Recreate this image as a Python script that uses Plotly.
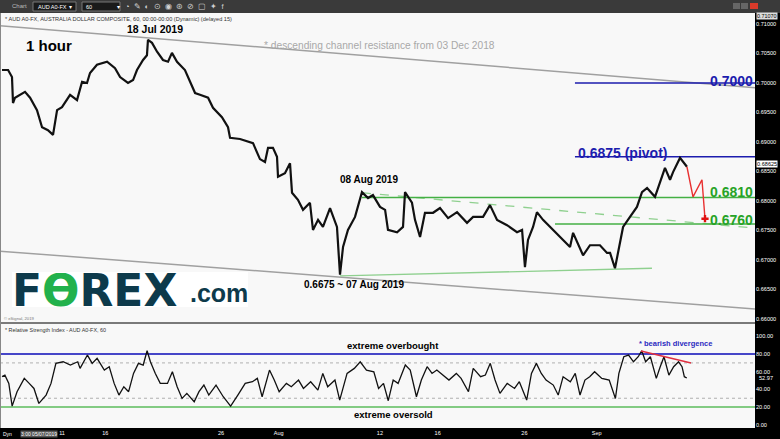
import plotly.graph_objects as go

FONT = "Liberation Sans, Arial, sans-serif"

# ---------------- data (x = trading-day index from 05 Jul 2019) ----------------
price_day = [0.0, 0.42, 0.69, 0.76, 0.90, 1.59, 1.94, 2.42, 2.77, 3.18,
             3.53, 3.81, 4.15, 4.71, 5.19, 5.54, 5.88, 6.09, 6.57, 7.27,
             7.82, 8.17, 8.72, 9.07, 9.34, 9.76, 10.03, 10.10, 10.38, 10.73,
             11.14, 11.49, 11.76, 12.11, 12.66, 13.01, 13.36, 13.70, 14.26, 14.60,
             15.22, 15.64, 15.78, 16.47, 17.37, 17.85, 18.20, 18.41, 18.75, 19.03,
             19.10, 19.58, 19.93, 20.07, 20.48, 20.83, 21.31, 21.52, 21.87, 22.21,
             22.70, 23.18, 23.39, 23.60, 23.94, 24.43, 24.91, 25.33, 25.67, 26.16,
             26.51, 26.71, 27.34, 27.75, 27.89, 28.37, 28.58, 28.93, 29.27, 29.83,
             30.31, 30.87, 31.49, 32.18, 32.60, 33.29, 33.77, 34.26, 34.95, 35.64,
             35.99, 36.19, 36.40, 36.75, 37.02, 37.44, 37.92, 38.62, 39.31, 39.52,
             40.21, 40.69, 41.38, 41.87, 42.08, 42.42, 42.77, 42.98, 43.46, 43.94,
             44.29, 44.64, 45.19, 45.88, 46.23, 46.44, 46.92, 47.40]
price_val = [0.7022, 0.7022, 0.7010, 0.6966, 0.6975, 0.6985, 0.6975, 0.6954, 0.6925, 0.6920,
             0.6912, 0.6954, 0.6959, 0.6980, 0.6971, 0.7002, 0.7000, 0.7017, 0.7031, 0.7036,
             0.7025, 0.7010, 0.7000, 0.7005, 0.7022, 0.7039, 0.7047, 0.7073, 0.7068, 0.7053,
             0.7039, 0.7036, 0.7051, 0.7036, 0.7022, 0.7002, 0.6983, 0.6980, 0.6975, 0.6958,
             0.6942, 0.6925, 0.6907, 0.6905, 0.6898, 0.6871, 0.6866, 0.6890, 0.6890, 0.6875,
             0.6841, 0.6847, 0.6864, 0.6814, 0.6802, 0.6785, 0.6797, 0.6751, 0.6768, 0.6756,
             0.6788, 0.6756, 0.6675, 0.6722, 0.6751, 0.6773, 0.6815, 0.6805, 0.6810, 0.6790,
             0.6785, 0.6751, 0.6747, 0.6756, 0.6815, 0.6797, 0.6768, 0.6739, 0.6780, 0.6780,
             0.6788, 0.6771, 0.6781, 0.6763, 0.6773, 0.6773, 0.6793, 0.6768, 0.6759, 0.6747,
             0.6751, 0.6688, 0.6734, 0.6756, 0.6781, 0.6768, 0.6756, 0.6739, 0.6722, 0.6746,
             0.6708, 0.6725, 0.6725, 0.6712, 0.6712, 0.6686, 0.6729, 0.6756, 0.6773, 0.6790,
             0.6815, 0.6822, 0.6807, 0.6856, 0.6836, 0.6849, 0.6873, 0.6858]

rsi_day = [0.0, 0.20, 0.47, 0.70, 1.04, 1.54, 1.88, 2.21, 2.55, 3.05,
           3.39, 3.73, 4.23, 4.73, 5.24, 5.40, 5.91, 6.24, 6.58, 7.08,
           7.42, 7.76, 8.09, 8.43, 8.76, 9.10, 9.44, 9.77, 10.04, 10.27,
           10.61, 10.95, 11.45, 11.79, 12.12, 12.46, 12.79, 13.30, 13.63, 13.97,
           14.31, 14.81, 15.31, 15.82, 16.32, 16.83, 17.33, 17.67, 18.00, 18.51,
           18.84, 19.18, 19.68, 20.02, 20.52, 20.86, 21.36, 21.86, 22.20, 22.54,
           23.04, 23.37, 23.88, 24.38, 24.79, 25.22, 25.73, 26.06, 26.40, 26.73,
           27.07, 27.41, 27.91, 28.25, 28.68, 29.02, 29.42, 29.76, 30.09, 30.60,
           30.93, 31.44, 31.77, 32.28, 32.61, 33.12, 33.45, 33.79, 34.12, 34.46,
           34.96, 35.47, 35.80, 36.31, 36.64, 36.98, 37.32, 37.65, 38.15, 38.49,
           38.83, 39.33, 39.67, 40.00, 40.34, 40.67, 41.01, 41.51, 42.02, 42.45,
           42.69, 43.03, 43.36, 43.70, 44.03, 44.27, 44.54, 44.87, 45.28, 45.55,
           45.81, 46.15, 46.48, 46.82, 47.06, 47.22, 47.39]
rsi_val = [54.4, 56.2, 46.8, 21.1, 37.4, 52.5, 46.8, 41.1, 24.1, 33.6,
           46.8, 69.5, 71.3, 67.6, 71.3, 63.8, 78.9, 69.5, 75.1, 61.9,
           65.7, 46.8, 33.6, 43.0, 37.4, 58.1, 69.5, 67.6, 83.8, 71.3,
           58.1, 46.8, 46.8, 60.0, 43.0, 29.8, 35.5, 26.0, 37.4, 44.9,
           33.6, 44.9, 31.7, 21.1, 33.6, 46.8, 48.7, 52.5, 31.7, 61.9,
           50.6, 37.4, 46.8, 43.0, 50.6, 41.1, 48.7, 39.2, 58.1, 43.0,
           50.6, 27.9, 58.1, 63.8, 71.3, 61.9, 60.0, 41.1, 46.8, 27.2,
           50.6, 46.8, 67.6, 61.9, 31.7, 50.6, 65.7, 58.1, 61.9, 54.4,
           50.6, 58.1, 52.5, 37.4, 63.8, 54.4, 56.2, 69.5, 50.6, 35.5,
           46.8, 41.1, 48.7, 27.9, 58.1, 69.5, 58.1, 50.6, 44.9, 33.6,
           54.4, 48.7, 58.1, 33.6, 50.6, 54.4, 60.0, 52.5, 50.6, 29.8,
           58.1, 77.0, 78.9, 71.3, 77.0, 83.8, 71.3, 77.0, 52.5, 65.7,
           77.0, 56.2, 65.7, 71.3, 65.7, 54.4, 52.97]

# projected path (red)
proj_day = [47.40, 47.82, 48.44, 48.65]
proj_val = [0.6858, 0.6807, 0.6836, 0.6770]

# trend lines: [start_day, end_day], [start_price, end_price]
chan_res_day, chan_res_val = [-0.14, 52.11], [0.7097, 0.6992]
chan_sup_day, chan_sup_val = [-0.14, 52.11], [0.6715, 0.6617]
low_sup_day, low_sup_val = [23.39, 44.98], [0.6673, 0.6686]
dash_res_day, dash_res_val = [24.91, 52.11], [0.6814, 0.6754]

# horizontal levels
lvl_7000 = 0.7000
lvl_pivot = 0.6875
lvl_6810 = 0.6806
lvl_6760 = 0.6761
lvl_start = {"7000": 39.65, "pivot": 39.65, "6810": 24.91, "6760": 38.27}

# RSI divergence line
div_day, div_val = [44.22, 47.68], [83.5, 69.9]

# axis ticks
x_tickvals = [4, 7, 15, 19, 26, 30, 36, 41]
x_ticktext = ["11", "16", "26", "Aug", "12", "16", "26", "Sep"]
price_ticks = [0.660, 0.665, 0.670, 0.675, 0.680, 0.685, 0.690, 0.695, 0.700, 0.705, 0.710]
rsi_ticks = [0, 20, 40, 60, 80, 100]

X_END = 52.11
BLUE = "#1c1cae"
LGREEN = "#8fd08f"

fig = go.Figure()


def line(xs, ys, color, width, dash="solid", yaxis="y", mode="lines"):
    fig.add_trace(go.Scatter(x=xs, y=ys, mode=mode, yaxis=yaxis, hoverinfo="skip",
                             line=dict(color=color, width=width, dash=dash), showlegend=False))


# channel & trend lines
line(chan_res_day, chan_res_val, "#a0a0a0", 1.5)
line(chan_sup_day, chan_sup_val, "#a0a0a0", 1.5)
line(low_sup_day, low_sup_val, LGREEN, 1.3)
line(dash_res_day, dash_res_val, LGREEN, 1.3, dash="dash")
line([lvl_start["7000"], X_END], [lvl_7000, lvl_7000], BLUE, 1.5)
line([lvl_start["pivot"], X_END], [lvl_pivot, lvl_pivot], BLUE, 1.5)
line([lvl_start["6810"], X_END], [lvl_6810, lvl_6810], "#44b044", 1.6)
line([lvl_start["6760"], X_END], [lvl_6760, lvl_6760], "#44b044", 1.6)

# price
line(price_day, price_val, "#111111", 2.2)
# projection
line(proj_day, proj_val, "#e83030", 1.4)
fig.add_trace(go.Scatter(x=[proj_day[-1]], y=[proj_val[-1]], mode="markers", hoverinfo="skip",
                         marker=dict(symbol="cross", size=6, color="#e01010"), showlegend=False))

# RSI panel
line([-0.14, X_END], [80, 80], "#4646c8", 2.0, yaxis="y2")
line([-0.14, X_END], [70, 70], "#b0b0b0", 1, dash="dot", yaxis="y2")
line([-0.14, X_END], [30, 30], "#b0b0b0", 1, dash="dot", yaxis="y2")
line([-0.14, X_END], [20, 20], "#5cbc5c", 1.6, yaxis="y2")
line(rsi_day, rsi_val, "#111111", 1.3, yaxis="y2")
line(div_day, div_val, "#e03040", 1.4, yaxis="y2")

ann = []


def A(text, x, y, size, color="black", bold=False, xref="x", yref="y", xa="center", ya="middle",
      bg=None, family=FONT, **kw):
    d = dict(text=("<b>%s</b>" % text) if bold else text, x=x, y=y, xref=xref, yref=yref,
             xanchor=xa, yanchor=ya, showarrow=False,
             font=dict(family=family, size=size, color=color))
    if bg:
        d["bgcolor"] = bg
    d.update(kw)
    ann.append(d)


# price panel text
A("1 hour", 3.25, 0.7063, 15, bold=True)
A("18 Jul 2019", 10.59, 0.7092, 10.5, bold=True)
A("* descending channel resistance from 03 Dec 2018", 17.99, 0.7063, 10.2, color="#a8a8a8", xa="left")
A("08 Aug 2019", 25.40, 0.6836, 10, bold=True)
A("0.6675 ~ 07 Aug 2019", 24.36, 0.6658, 10, bold=True)
A("0.6875 (pivot)", 39.72, 0.6881, 14, color=BLUE, bold=True, xa="left")
A("0.7000", 1, 0.70034, 14, color=BLUE, bold=True, xref="paper", xa="right")
A("0.6810", 1, 0.68144, 14, color="#27a327", bold=True, xref="paper", xa="right")
A("0.6760", 1, 0.67686, 14, color="#27a327", bold=True, xref="paper", xa="right")

# RSI text
A("extreme overbought", 27.06, 89.5, 9.5, bold=True, yref="y2")
A("extreme oversold", 27.06, 11.5, 9.5, bold=True, yref="y2")
A("* bearish divergence", 46.64, 92.5, 7.5, color="#2a2ac0", bold=True, yref="y2")

# paper helpers: px -> paper
W, H = 755.0, 415.0


def px(xp):
    return xp / W


def py(yp):
    return (428.0 - yp) / H


# panel headers
A("* AUD A0-FX, AUSTRALIA DOLLAR COMPOSITE, 60, 00:00-00:00 (Dynamic) (delayed 15)", px(3), py(19), 5.6,
  color="#333333", xref="paper", yref="paper", xa="left")
A("* Relative Strength Index - AUD A0-FX, 60", px(3), py(330), 5.4, color="#333333",
  xref="paper", yref="paper", xa="left")
A("© eSignal, 2019", px(3), py(318), 4.2, color="#777777", xref="paper", yref="paper", xa="left",
  borderpad=0)

# FOREX.com logo
A("<b>F<span style='color:#22b14c'>Ө</span>REX</b>", px(11), py(290), 44, color="#0d3a4b",
  xref="paper", yref="paper", xa="left", family="DejaVu Sans, sans-serif", borderpad=0, height=34,
  valign="middle")
A("<b>.com</b>", px(189), py(293), 25, color="#0d3a4b", xref="paper", yref="paper", xa="left",
  borderpad=0)

# right axis labels
A("52.97", px(757), 52.97, 5.6, color="white", xref="paper", yref="y2", xa="left")
A("0.68625", px(756), 0.68625, 5.6, color="black", xref="paper", yref="y", xa="left", bg="white",
  borderpad=0)
A("0.71070", px(756), py(16), 5.4, color="black", xref="paper", yref="paper", xa="left", bg="#dddddd",
  borderpad=0)

# toolbar and bottom strip text
A("Chart", px(10), py(6), 6, color="#bbbbbb", xref="paper", yref="paper", xa="left")
A("AUD A0-FX  ▾", px(36), py(6.5), 5.5, color="white", xref="paper", yref="paper", xa="left")
A("60                ▾", px(84), py(6.5), 5.5, color="white", xref="paper", yref="paper", xa="left")
A("◔  ✎  ◐  ⊙  ◉  ⊛  ⊘  ▢  ✦  f", px(123), py(6.5), 7.5, color="#d0d0d0", xref="paper",
  yref="paper", xa="left")
A("Dyn", px(1), py(433.5), 5, color="white", xref="paper", yref="paper", xa="left")
A("3:00 05/07/2019", px(20), py(433.5), 5, color="white", xref="paper", yref="paper", xa="left",
  bg="#555555", borderpad=0)

shapes = [
    # toolbar
    dict(type="rect", xref="paper", yref="paper", x0=0, x1=px(780), y0=py(13), y1=py(0),
         fillcolor="#3a3a3a", line=dict(width=0), layer="below"),
    dict(type="rect", xref="paper", yref="paper", x0=px(33), x1=px(76), y0=py(11), y1=py(2),
         fillcolor="#1a1a1a", line=dict(color="#777777", width=1)),
    dict(type="rect", xref="paper", yref="paper", x0=px(82), x1=px(120), y0=py(11), y1=py(2),
         fillcolor="#1a1a1a", line=dict(color="#777777", width=1)),
    dict(type="rect", xref="paper", yref="paper", x0=px(733), x1=px(740), y0=py(9), y1=py(3),
         fillcolor="#666666", line=dict(width=0)),
    dict(type="rect", xref="paper", yref="paper", x0=px(741), x1=px(748), y0=py(9), y1=py(3),
         fillcolor="#666666", line=dict(width=0)),
    dict(type="rect", xref="paper", yref="paper", x0=px(750), x1=px(758), y0=py(9), y1=py(3),
         fillcolor="#d83a2a", line=dict(width=0)),
    # logo background
    dict(type="rect", xref="paper", yref="paper", x0=px(12), x1=px(248), y0=py(307), y1=py(272),
         fillcolor="white", line=dict(width=0), layer="below"),
    # panel separator & frame
    dict(type="line", xref="paper", yref="paper", x0=0, x1=1, y0=py(323), y1=py(323),
         line=dict(color="#7a7a7a", width=2)),
    dict(type="line", xref="paper", yref="paper", x0=px(0.5), x1=px(0.5), y0=0, y1=1,
         line=dict(color="#888888", width=1)),
]

fig.update_layout(
    width=780, height=439,
    margin=dict(l=0, r=25, t=13, b=11),
    paper_bgcolor="black", plot_bgcolor="#f8f8f8",
    font=dict(family=FONT),
    showlegend=False,
    xaxis=dict(domain=[0, 1], range=[-0.14, X_END], anchor="y2", showgrid=False, zeroline=False,
               tickvals=[v + 0.15 for v in x_tickvals], ticktext=x_ticktext, ticks="",
               tickfont=dict(color="white", size=5.5, family=FONT), showline=False, fixedrange=True),
    yaxis=dict(domain=[py(323), 1], range=[0.65932, 0.71186], side="right", anchor="x",
               tickvals=price_ticks, tickformat=".5f", showgrid=False, zeroline=False, ticks="",
               tickfont=dict(color="white", size=5.6, family=FONT)),
    yaxis2=dict(domain=[0, py(323)], range=[-3.7, 115.2], side="right", anchor="x",
                tickvals=rsi_ticks, tickformat=".2f", showgrid=False, zeroline=False, ticks="",
                tickfont=dict(color="white", size=5.6, family=FONT)),
    annotations=ann,
    shapes=shapes,
)

fig.write_html("out.html", config={"displayModeBar": False},
               post_script="document.body.style.margin='0';document.body.style.overflow='hidden';")
